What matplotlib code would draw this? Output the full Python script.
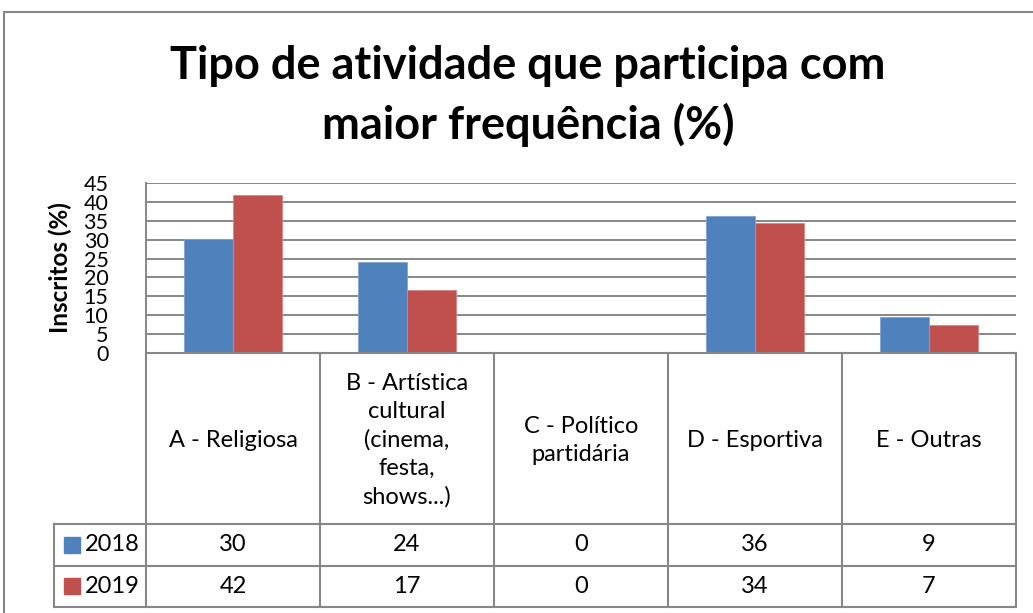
import matplotlib
matplotlib.use("Agg")
import matplotlib.pyplot as plt
from matplotlib.lines import Line2D

plt.rcParams['font.family'] = ['Lato', 'DejaVu Sans']

categorias = ["A - Religiosa",
              "B - Artística\ncultural\n(cinema,\nfesta,\nshows...)",
              "C - Político\npartidária",
              "D - Esportiva",
              "E - Outras"]
anos = ["2018", "2019"]
v2018 = [30.2, 24.1, 0, 36.2, 9.4]
v2019 = [41.8, 16.8, 0, 34.4, 7.3]
cores = ["#4F81BD", "#C0504D"]
cinza = "#878787"

W, H = 1033, 613
fig = plt.figure(figsize=(W / 100, H / 100), dpi=100)

def box(x0, y0, x1, y1):
    return [x0 / W, 1 - y1 / H, (x1 - x0) / W, (y1 - y0) / H]

# moldura externa
fig.add_artist(Line2D([4 / W, 4 / W], [0, 1 - 12 / H], color=cinza, lw=1.5))
fig.add_artist(Line2D([4 / W, 1], [1 - 12 / H, 1 - 12 / H], color=cinza, lw=1.5))

fig.text(528 / W, 1 - 96 / H, "Tipo de atividade que participa com\nmaior frequência (%)",
         ha="center", va="center", fontsize=32.5, fontweight="bold", linespacing=1.45)

ax = fig.add_axes(box(146, 183, 1016, 353))
n = len(categorias)
larg = 49 / 174
xs = [i + 0.5 for i in range(n)]
ax.bar([x - larg / 2 for x in xs], v2018, larg, color=cores[0], edgecolor="#7FA3D0", lw=0.6, zorder=3)
ax.bar([x + larg / 2 for x in xs], v2019, larg, color=cores[1], edgecolor="#D98583", lw=0.6, zorder=3)
ax.set_xlim(0, n)
ax.set_ylim(0, 45)
ax.set_yticks(range(0, 46, 5))
ax.yaxis.grid(True, color=cinza, lw=1.4)
ax.set_axisbelow(True)
ax.set_xticks([])
for s in ["top", "right", "bottom"]:
    ax.spines[s].set_visible(False)
ax.spines["left"].set_color(cinza)
ax.spines["left"].set_linewidth(1.4)
ax.tick_params(axis="y", length=0, pad=27, labelsize=15.5)
ax.set_ylabel("Inscritos (%)", fontsize=17.5, fontweight="bold")
ax.yaxis.set_label_coords(-0.085, 0.5)

# tabela de dados
tb = fig.add_axes(box(54, 353, 1016, 607))
leg_x = -92 / 174
tb.set_xlim(leg_x, n)
alt_cab, alt_lin = 171, 41.5
tb.set_ylim(alt_cab + 2 * alt_lin, 0)
tb.axis("off")
kw = dict(color=cinza, lw=1.5, clip_on=False)
tb.plot([0, n], [0, 0], **kw)
for i in range(n + 1):
    tb.plot([i, i], [0, alt_cab + 2 * alt_lin], **kw)
tb.plot([leg_x, leg_x], [alt_cab, alt_cab + 2 * alt_lin], **kw)
for k in range(3):
    y = alt_cab + k * alt_lin
    tb.plot([leg_x, n], [y, y], **kw)
for i, c in enumerate(categorias):
    tb.text(xs[i], alt_cab / 2 + 2, c, ha="center", va="center", fontsize=17, linespacing=1.42)
for k, (ano, vals) in enumerate(zip(anos, [v2018, v2019])):
    yc = alt_cab + (k + 0.5) * alt_lin
    tb.plot([leg_x + 17.5 / 174], [yc], marker="s", ms=11, color=cores[k], ls="none", clip_on=False)
    tb.text(leg_x + 31 / 174, yc, ano, ha="left", va="center", fontsize=17)
    for i, v in enumerate(vals):
        tb.text(xs[i], yc, str(int(round(v))), ha="center", va="center", fontsize=17)

fig.savefig("out.png", dpi=100)
